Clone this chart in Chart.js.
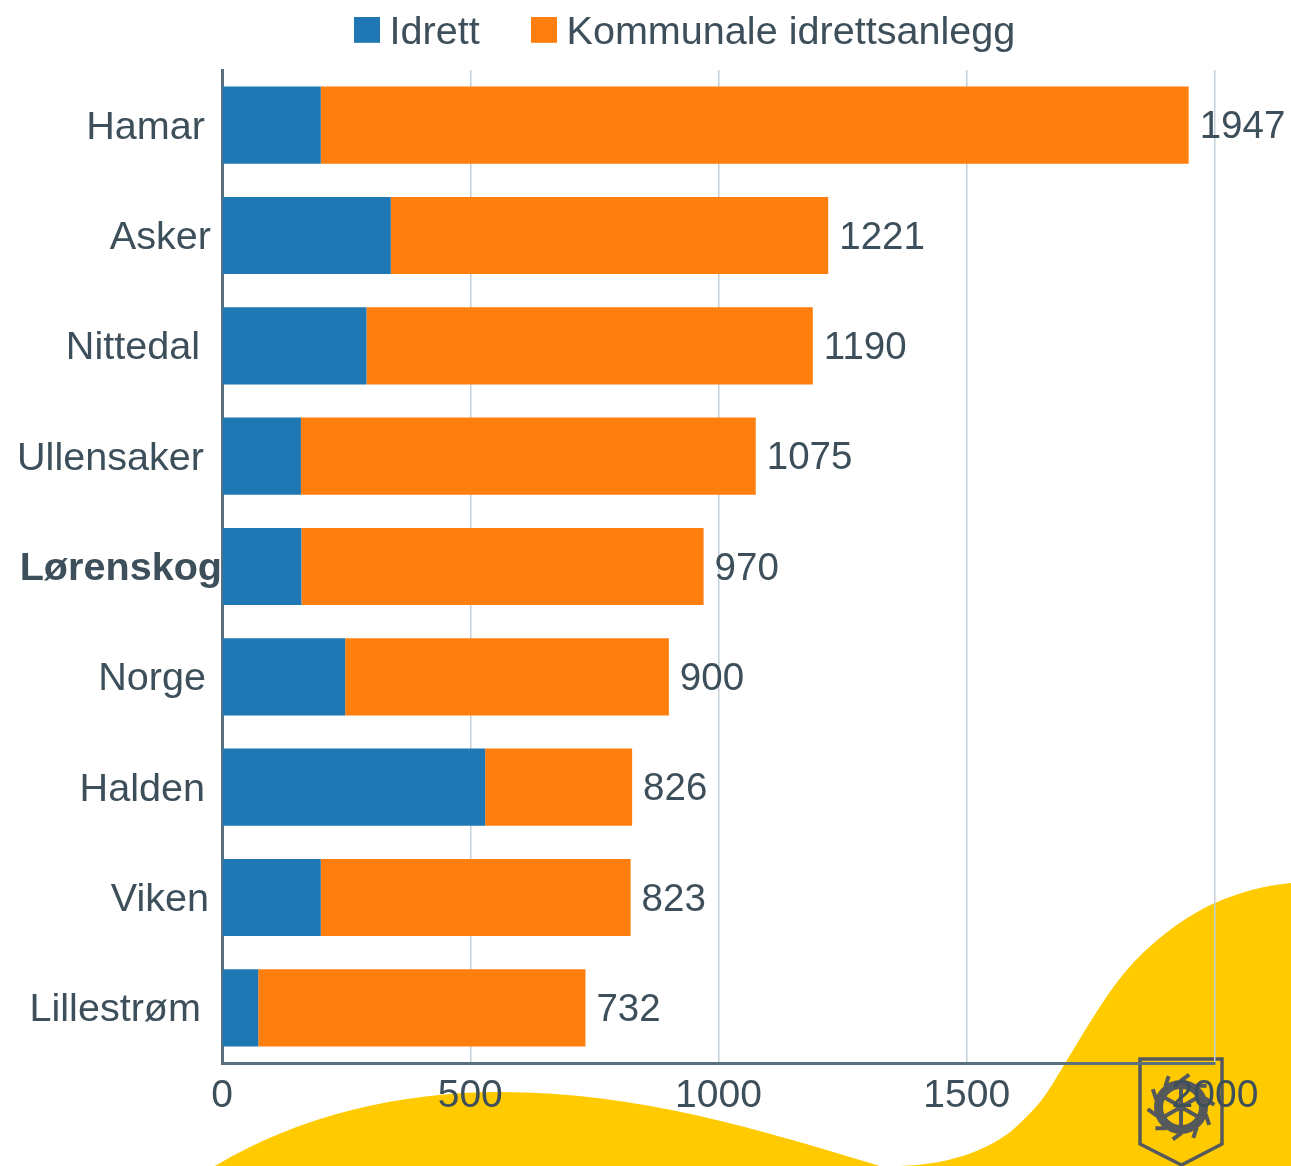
<!DOCTYPE html>
<html><head><meta charset="utf-8">
<style>html,body{margin:0;padding:0;background:#fff}#w{position:relative;width:1291px;height:1166px}</style>
<script src="https://cdn.jsdelivr.net/npm/chart.js@4"></script>
</head><body><div id="w"><canvas id="c" width="1291" height="1166"></canvas></div>
<script>
const categories = ["Hamar","Asker","Nittedal","Ullensaker","Lørenskog","Norge","Halden","Viken","Lillestrøm"];
const idrett = [199,340,291,159,160,248,530,199,73];
const kommunale = [1748,881,899,916,810,652,296,624,659];
const seriesNames = ["Idrett","Kommunale idrettsanlegg"];
const seriesColors = ["#1f77b4","#ff7f0e"];
const xTicks = [0,500,1000,1500,2000];
// right edge of each category label (label layout only)
const labelRight = [205,211,200,204,222,206,205,209,201];

const TEXT = "#3d4f5a", FONT = '"Liberation Sans", Arial, sans-serif', SIZE = 38.5, LABEL_SIZE = 39.6;

function swatch(color){
  const s=document.createElement('canvas'); s.width=26; s.height=32;
  const g=s.getContext('2d'); g.fillStyle=color; g.fillRect(0,0,26,26); return s;
}
const backdrop = {
  id:'backdrop',
  beforeLayout(chart){
    const l=chart.legend;
    if(l && !l._wrapped){
      const f=l.fit;
      l.fit=function(){f.call(this); this.height=0;};
      l._wrapped=true;
    }
  },
  beforeDraw(chart){
    const c=chart.ctx; c.save();
    c.fillStyle='#fff'; c.fillRect(0,0,1291,1166);
    c.fillStyle='#ffcb00';
    c.fill(new Path2D('M215,1166 C300,1115 400,1092 500,1092 C640,1092 760,1130 880,1166 Z'));
    c.fill(new Path2D('M1291,883 C1262,886 1240,892 1215,903 C1185,916 1155,940 1133,963 C1108,990 1088,1026 1067,1060 C1055,1080 1045,1098 1033,1110 C1020,1124 1010,1133 1000,1139 C970,1158 930,1166 895,1166 L1291,1166 Z'));
    // shield
    c.strokeStyle='#55595c'; c.lineWidth=3.5;
    c.beginPath(); c.moveTo(1140,1059); c.lineTo(1222,1059); c.lineTo(1222,1144); c.lineTo(1181.5,1165); c.lineTo(1140,1144); c.closePath(); c.stroke();
    const cx=1181,cy=1107;
    c.lineWidth=9; c.beginPath(); c.arc(cx,cy,22.5,0,Math.PI*2); c.stroke();
    c.lineWidth=4; 
    for(let i=0;i<6;i++){const a=i*Math.PI/3+Math.PI/2; c.beginPath(); c.moveTo(cx,cy); c.lineTo(cx+21*Math.cos(a),cy+21*Math.sin(a)); c.stroke();}
    c.fillStyle='#55595c'; c.beginPath(); c.arc(cx,cy,5,0,Math.PI*2); c.fill();
    for(let i=0;i<10;i++){const a=i*Math.PI/5+0.35, rx=cx+27*Math.cos(a), ry=cy+27*Math.sin(a), t=a+0.9;
      c.beginPath(); c.moveTo(rx-2*Math.cos(t),ry-2*Math.sin(t)); c.lineTo(rx+9*Math.cos(t),ry+9*Math.sin(t)); c.stroke();}
    c.restore();
  },
  afterLayout(chart){
    const l=chart.legend, shift=44;
    l.left=shift; l.right=1291+shift; l.top=13-61; l.bottom=70;
  }
};
const texts = {
  id:'texts',
  afterDatasetsDraw(chart){
    const c=chart.ctx, y=chart.scales.y, x=chart.scales.x; c.save();
    c.fillStyle=TEXT; c.textBaseline='middle';
    categories.forEach((name,i)=>{
      const py=y.getPixelForValue(i);
      c.textAlign='right';
      c.font=(name==='Lørenskog'?'bold ':'')+LABEL_SIZE+'px '+FONT;
      c.fillText(name,labelRight[i],py+2.5);
      c.textAlign='left'; c.font=SIZE+'px '+FONT;
      c.fillText(String(idrett[i]+kommunale[i]),x.getPixelForValue(idrett[i]+kommunale[i])+11,py+2.5);
    });
    c.restore();
  }
};
new Chart(document.getElementById('c'),{
  type:'bar',
  data:{labels:categories,datasets:[
    {label:seriesNames[0],data:idrett,backgroundColor:seriesColors[0],borderWidth:0},
    {label:seriesNames[1],data:kommunale,backgroundColor:seriesColors[1],borderWidth:0}
  ]},
  plugins:[backdrop,texts],
  options:{
    indexAxis:'y',responsive:false,animation:false,
    layout:{padding:{top:70,right:76,bottom:0,left:0}},
    datasets:{bar:{categoryPercentage:1,barPercentage:0.7}},
    scales:{
      x:{stacked:true,min:0,max:2000,
        afterBuildTicks(s){s.ticks=xTicks.map(v=>({value:v}));},
        afterFit(s){s.height=103;},
        grid:{color:'#c3d0d8',lineWidth:1.5,drawTicks:false,tickLength:0},
        border:{color:'#5b707e',width:3},
        ticks:{color:TEXT,font:{family:FONT,size:39,lineHeight:1},padding:14,maxRotation:0,autoSkip:false,callback:v=>String(v)}
      },
      y:{stacked:true,
        afterFit(s){s.width=222;},
        grid:{display:false},
        border:{color:'#5b707e',width:3},
        ticks:{display:false}
      }
    },
    plugins:{
      tooltip:{enabled:false},
      legend:{position:'top',align:'center',
        labels:{usePointStyle:true,pointStyleWidth:6,padding:61,color:TEXT,font:{family:FONT,size:LABEL_SIZE,lineHeight:1},
          generateLabels(){return seriesNames.map((n,i)=>({text:n,fontColor:TEXT,pointStyle:swatch(seriesColors[i]),datasetIndex:i,hidden:false,lineWidth:0}));}
        }
      }
    }
  }
});
</script></body></html>
